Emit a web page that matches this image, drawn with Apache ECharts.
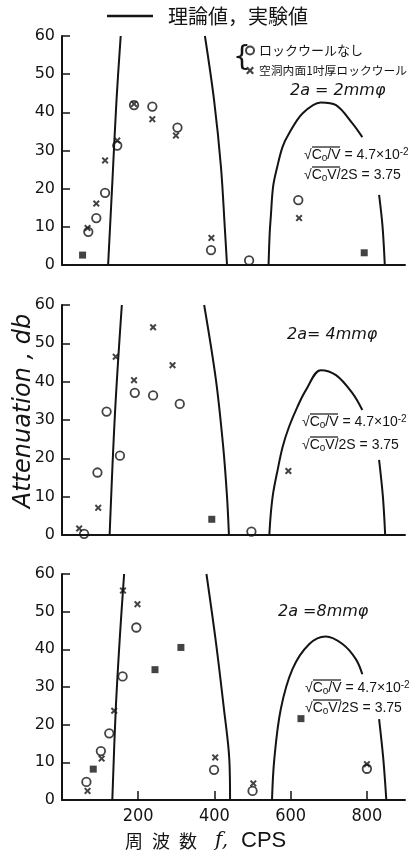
<!DOCTYPE html>
<html><head><meta charset="utf-8">
<script src="https://cdn.jsdelivr.net/npm/echarts@6/dist/echarts.min.js"></script>
<style>html,body{margin:0;padding:0;background:#fff}#c{width:420px;height:851px}</style>
</head><body><div id="c"></div>
<script>
// ---- data ----
const xTickValues = [200, 400, 600, 800];
const seriesNames = ['理論値', 'ロックウールなし', '空洞内面1吋厚ロックウール', '重複'];
const panelLabels = ['2a = 2mmφ', '2a= 4mmφ', '2a =8mmφ'];

// 2a = 2 mm
const p1Circle = [[69,8.7],[90,12.3],[113,18.9],[145,31.3],[189,41.9],[237,41.5],[303,36.0],[391,3.9],[491,1.2],[620,17.0]];
const p1Cross  = [[67,9.7],[90,16.1],[113,27.4],[145,32.6],[189,42.2],[237,38.2],[299,33.9],[392,7.1],[622,12.3]];
const p1Both   = [[54,2.6],[793,3.2]];
const p1TheoryA = [[121,0],[132,21.5],[143,43.2],[154,60]];
const p1TheoryB = [[375,60],[399,43.2],[417,25.8],[428,8.4],[433,0]];
const p1TheoryC = [[542,0],[545,8.4],[548,12.8],[554,20.6],[565,25.8],[579,31],[596,34.5],[631,39.7],[679,42.6],[719,41.9],[762,37.1],[788,33.5],[810,'-'],[832,18.4],[841,10.2],[847,0]];

// 2a = 4 mm
const p2Circle = [[58,0.3],[93,16.3],[117,32.2],[152,20.7],[191,37.1],[239,36.4],[309,34.2],[497,0.9]];
const p2Cross  = [[45,1.7],[95,7.1],[141,46.5],[189,40.4],[239,54.2],[290,44.3],[594,16.7]];
const p2Both   = [[393,4.1]];
const p2TheoryA = [[125,0],[139,31.7],[157,60]];
const p2TheoryB = [[373,60],[404,40.4],[423,23],[433,10],[438,0]];
const p2TheoryC = [[544,0],[548,5.7],[554,10.9],[564,16.1],[579,23],[596,28.3],[618,33.5],[640,37.8],[679,43],[719,41.7],[762,37],[788,32.6],[810,'-'],[832,19.6],[842,10],[848,0]];

// 2a = 8 mm
const p3Circle = [[64,4.8],[102,13],[124,17.7],[159,32.8],[195,45.8],[399,8],[500,2.4],[800,8.3]];
const p3Cross  = [[67,2.4],[104,11],[137,23.7],[160,55.6],[198,52],[402,11.3],[502,4.4],[800,9.5]];
const p3Both   = [[82,8.2],[244,34.6],[312,40.5],[627,21.6]];
const p3TheoryA = [[132,0],[141,24],[152,43.6],[163,60]];
const p3TheoryB = [[379,60],[404,41.8],[425,24.1],[439,10.8],[441,0]];
const p3TheoryC = [[551,0],[557,10.8],[574,24.1],[605,34.8],[649,41.4],[692,43.4],[736,41.4],[771,37.4],[788,33.4],[810,'-'],[832,21.5],[843,11],[851,0]];

const panels = [
  {circle:p1Circle, cross:p1Cross, both:p1Both, theory:[p1TheoryA,p1TheoryB,p1TheoryC]},
  {circle:p2Circle, cross:p2Cross, both:p2Both, theory:[p2TheoryA,p2TheoryB,p2TheoryC]},
  {circle:p3Circle, cross:p3Cross, both:p3Both, theory:[p3TheoryA,p3TheoryB,p3TheoryC]}
];

// ---- chart ----
const INK = '#141414';
const crossPath = 'path://M2,0L5,3L8,0L10,2L7,5L10,8L8,10L5,7L2,10L0,8L3,5L0,2Z';
const grids = [
  {left:62, width:343, top:36, height:229},
  {left:62, width:343, top:305, height:230},
  {left:62, width:343, top:574, height:226}
];
const xAxes = grids.map((g,i)=>({
  type:'value', gridIndex:i, min:0, max:900,
  axisLine:{show:true, onZero:false, lineStyle:{color:INK, width:2}},
  axisTick:{show:i===2, inside:true, length:9, customValues:xTickValues, lineStyle:{color:INK, width:1.5}},
  axisLabel:{show:i===2, customValues:xTickValues, margin:7, color:INK, fontSize:18,
    fontFamily:'"Liberation Sans Narrow","DejaVu Sans Condensed","Liberation Sans",sans-serif'},
  splitLine:{show:false}
}));
const yAxes = grids.map((g,i)=>({
  type:'value', gridIndex:i, min:0, max:60, interval:10,
  axisLine:{show:true, lineStyle:{color:INK, width:2}},
  axisTick:{show:true, inside:true, length:8, lineStyle:{color:INK, width:1.5}},
  axisLabel:{margin:7, color:INK, fontSize:16, fontFamily:'"DejaVu Sans",sans-serif'},
  splitLine:{show:false}
}));
const series = [];
panels.forEach((p,i)=>{
  p.theory.forEach(seg=>{
    series.push({type:'line', name:seriesNames[0], xAxisIndex:i, yAxisIndex:i, data:seg,
      showSymbol:false, symbol:'none', smooth:0.35, connectNulls:false, z:2,
      lineStyle:{color:INK, width:2}, itemStyle:{color:INK}});
  });
  series.push({type:'scatter', name:seriesNames[1], xAxisIndex:i, yAxisIndex:i, data:p.circle,
    symbol:'circle', symbolSize:8.5, z:3,
    itemStyle:{color:'rgba(255,255,255,0)', borderColor:INK, borderWidth:1.8}});
  series.push({type:'scatter', name:seriesNames[2], xAxisIndex:i, yAxisIndex:i, data:p.cross,
    symbol:crossPath, symbolSize:7, z:4, itemStyle:{color:INK}});
  series.push({type:'scatter', name:seriesNames[3], xAxisIndex:i, yAxisIndex:i, data:p.both,
    symbol:'rect', symbolSize:7, z:4, itemStyle:{color:INK}});
});

const T = (x,y,text,font,extra)=>Object.assign({type:'text', x, y, z:10,
  style:{text, font, fill:INK, align:'left', verticalAlign:'middle'}}, extra||{});
const L = (x1,y1,x2,y2)=>({type:'line', z:10, shape:{x1,y1,x2,y2}, style:{stroke:INK, lineWidth:1.2}});
const formulaFont = '14px "Liberation Sans", sans-serif';
const formulaRich = {s:{fontSize:10, verticalAlign:'bottom', lineHeight:16, fill:INK, fontFamily:'Liberation Sans'},
                     p:{fontSize:10, verticalAlign:'top', lineHeight:16, fill:INK, fontFamily:'Liberation Sans'}};
function formula(x, y1, y2){
  return [
    {type:'text', x, y:y1, z:10, style:{text:'√C{s|o}/V = 4.7×10{p|-2}', font:formulaFont, fill:INK, verticalAlign:'middle', lineHeight:16, rich:formulaRich}},
    {type:'text', x, y:y2, z:10, style:{text:'√C{s|o}V/2S = 3.75', font:formulaFont, fill:INK, verticalAlign:'middle', lineHeight:16, rich:formulaRich}},
    L(x+8, y1-8, x+36, y1-8),
    L(x+8, y2-8, x+36, y2-8)
  ];
}
const graphics = [
  T(233, 59, '{', '28px "DejaVu Sans"'),
  T(290, 91, panelLabels[0], 'italic 16px "DejaVu Sans"'),
  T(287, 335, panelLabels[1], 'italic 16px "DejaVu Sans"'),
  T(278, 612, panelLabels[2], 'italic 16px "DejaVu Sans"'),
  ...formula(304, 155, 175),
  ...formula(302, 422, 445),
  ...formula(305, 688, 708),
  {type:'text', x:24, y:411, rotation:Math.PI/2, z:10,
    style:{text:'Attenuation , db', font:'italic 24px "DejaVu Sans"', fill:INK, align:'center', verticalAlign:'middle'}},
  T(125, 841, '周\u2002波\u2002数', '18px "Noto Sans CJK JP"'),
  T(215, 841, 'f,', 'italic 20px "DejaVu Serif"'),
  T(241, 841, 'CPS', '22px "Liberation Sans"')
];

const chart = echarts.init(document.getElementById('c'), null, {renderer:'canvas'});
chart.setOption({
  animation:false,
  backgroundColor:'#fff',
  grid:grids, xAxis:xAxes, yAxis:yAxes, series,
  legend:[
    {data:[seriesNames[0]], left:107, top:6, padding:0, icon:'rect', itemWidth:46, itemHeight:2.5, selectedMode:false,
     formatter:n=>'\u2002'+n+'，実験値', textStyle:{color:INK, fontSize:20, fontFamily:'"Noto Sans CJK JP"'}},
    {data:[seriesNames[1], seriesNames[2]], orient:'vertical', left:245, top:43, padding:0, itemWidth:8, itemHeight:8, itemGap:5,
     selectedMode:false,
     formatter:n=>n===seriesNames[2] ? '{b|'+n+'}' : '{a|'+n+'}',
     textStyle:{color:INK, fontSize:13, lineHeight:15, fontFamily:'"Noto Sans CJK JP"',
       rich:{a:{fontSize:13, lineHeight:15, fontFamily:'"Noto Sans CJK JP"', color:INK},
             b:{fontSize:11.8, lineHeight:15, fontFamily:'"Noto Sans CJK JP"', color:INK}}}}
  ],
  graphic:graphics
});
</script></body></html>
